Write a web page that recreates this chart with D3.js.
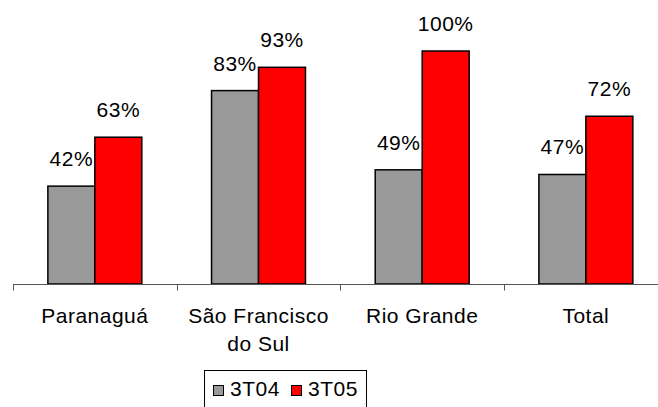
<!DOCTYPE html>
<html>
<head>
<meta charset="utf-8">
<script src="https://cdn.jsdelivr.net/npm/d3@7"></script>
<style>
  html, body { margin: 0; padding: 0; background: #fff; }
  svg { display: block; }
  text { font-family: "Liberation Sans", Arial, sans-serif; fill: #000; letter-spacing: 0.5px; }
</style>
</head>
<body>
<script>
// Port throughput share per quarter
const categories = [["Paranaguá"], ["São Francisco", "do Sul"], ["Rio Grande"], ["Total"]];
const seriesNames = ["3T04", "3T05"];
const values3T04 = [0.42, 0.83, 0.49, 0.47];
const values3T05 = [0.63, 0.93, 1.00, 0.72];
const seriesColors = ["#999999", "#ff0000"];

const width = 658, height = 407;
const fontSize = 21;
const svg = d3.select("body").append("svg")
  .attr("width", width).attr("height", height);

const keys = categories.map(c => c.join(" "));
const x = d3.scaleBand().domain(keys).range([13, 667.7]).padding(0);
const y = d3.scaleLinear().domain([0, 1]).range([284, 51]);
const barW = x.bandwidth() * 0.287;

const series = [values3T04, values3T05];

// bars
series.forEach((vals, si) => {
  const g = svg.append("g");
  g.selectAll("rect").data(vals).join("rect")
    .attr("x", (d, i) => x(keys[i]) + x.bandwidth() / 2 - barW + si * barW)
    .attr("y", d => y(d))
    .attr("width", barW)
    .attr("height", d => y(0) - y(d))
    .attr("fill", seriesColors[si])
    .attr("stroke", "#000")
    .attr("stroke-width", 1.5);

  g.selectAll("text").data(vals).join("text")
    .attr("x", (d, i) => x(keys[i]) + x.bandwidth() / 2 - barW / 2 + si * barW)
    .attr("y", d => y(d) - 20)
    .attr("text-anchor", "middle")
    .attr("font-size", fontSize)
    .text(d => Math.round(d * 100) + "%");
});

// category axis with ticks between groups
const axisG = svg.append("g");
axisG.append("line")
  .attr("x1", 13).attr("x2", width)
  .attr("y1", 284.5).attr("y2", 284.5)
  .attr("stroke", "#555").attr("stroke-width", 1);
const tickXs = keys.map(k => x(k)).concat([x.range()[1]]);
axisG.selectAll("line.tick").data(tickXs).join("line")
  .attr("class", "tick")
  .attr("x1", d => Math.round(d) + 0.5).attr("x2", d => Math.round(d) + 0.5)
  .attr("y1", 284.5).attr("y2", 290.5)
  .attr("stroke", "#555").attr("stroke-width", 1);

const catLabels = axisG.selectAll("text.cat").data(categories).join("text")
  .attr("class", "cat")
  .attr("x", (d, i) => x(keys[i]) + x.bandwidth() / 2)
  .attr("y", 323)
  .attr("text-anchor", "middle")
  .attr("font-size", fontSize);
catLabels.selectAll("tspan").data(d => d).join("tspan")
  .attr("x", function () { return d3.select(this.parentNode).attr("x"); })
  .attr("dy", (d, i) => i === 0 ? 0 : 28)
  .text(d => d);

// legend
const lg = svg.append("g");
lg.append("rect")
  .attr("x", 204.5).attr("y", 370.5)
  .attr("width", 162).attr("height", 40)
  .attr("fill", "#fff").attr("stroke", "#000").attr("stroke-width", 1);
const itemX = [213, 291];
seriesNames.forEach((name, i) => {
  lg.append("rect")
    .attr("x", itemX[i] + 0.5).attr("y", 385.5)
    .attr("width", 10).attr("height", 10)
    .attr("fill", seriesColors[i]).attr("stroke", "#000").attr("stroke-width", 1);
  lg.append("text")
    .attr("x", itemX[i] + 17).attr("y", 396)
    .attr("font-size", fontSize)
    .text(name);
});
</script>
</body>
</html>
